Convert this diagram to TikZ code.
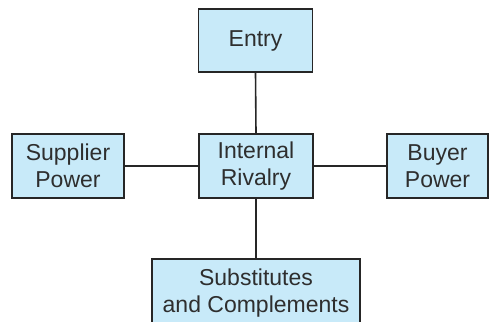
\documentclass[tikz,border=0pt]{standalone}
\usepackage{fontspec}
\setmainfont{Liberation Sans}
\usepackage{xcolor}
\definecolor{boxblue}{HTML}{C8EAF9}
\definecolor{edgegray}{HTML}{262626}
\definecolor{textgray}{HTML}{2E2E2E}
\usepackage{tikz}
\usetikzlibrary{positioning}

\begin{document}
\begin{tikzpicture}[x=1pt, y=-1pt,
    force/.style={draw=edgegray, line width=1.6pt, fill=boxblue, text=textgray,
        font=\fontsize{23}{27}\selectfont, align=center, inner sep=0pt},
    link/.style={draw=edgegray, line width=1.6pt}]
    \useasboundingbox (0,0) rectangle (489,321);
    \clip (0,0) rectangle (489,321);
    % Boxes
    \node[force, minimum width=114pt, minimum height=63pt] (entry) at (255.5,40.5) {Entry};
    \node[force, minimum width=114pt, minimum height=64pt] (rivalry) at (256,166) {Internal\\Rivalry};
    \node[force, minimum width=112pt, minimum height=64pt] (supplier) at (68,166) {Supplier\\Power};
    \node[force, minimum width=101pt, minimum height=64pt] (buyer) at (437.5,166) {Buyer\\Power};
    \node[force, minimum width=208pt, minimum height=68pt] (subst) at (256,293) {Substitutes\\and Complements};
    % Connectors
    \draw[link] (rivalry.north) -- (entry.south);
    \draw[link] (rivalry.south) -- (subst.north);
    \draw[link] (rivalry.west) -- (supplier.east);
    \draw[link] (rivalry.east) -- (buyer.west);
\end{tikzpicture}
\end{document}
